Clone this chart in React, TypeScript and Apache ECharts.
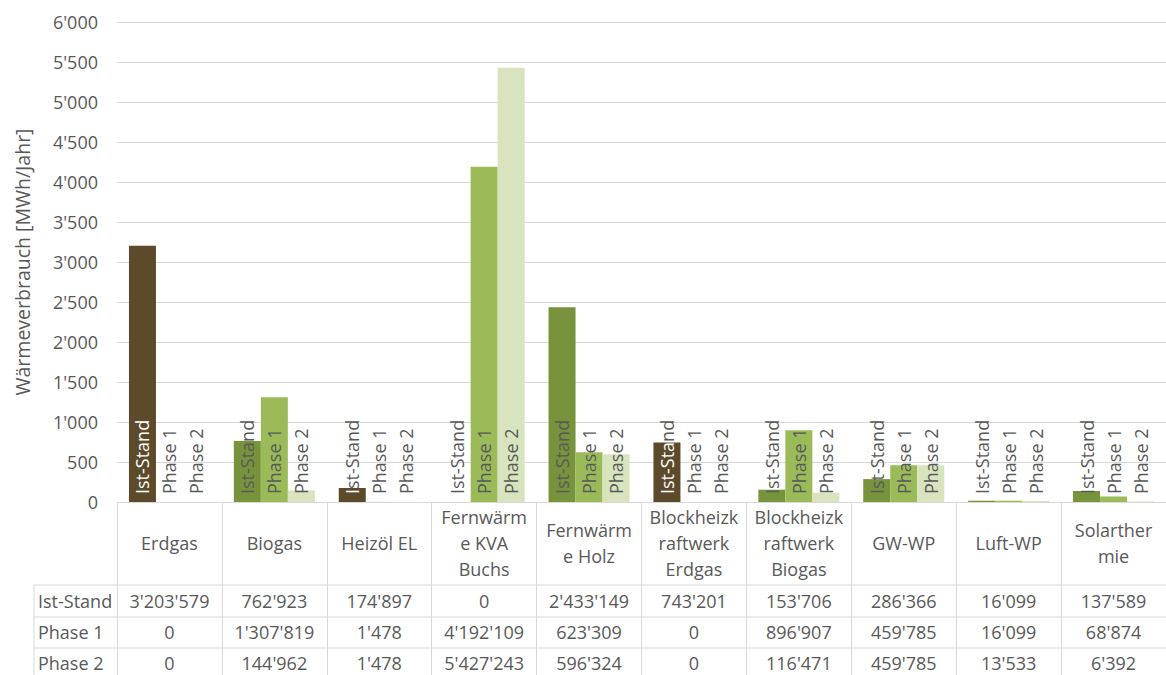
import React, { useEffect, useRef } from "react";
import * as echarts from "echarts";

const categories = [
  "Erdgas",
  "Biogas",
  "Heizöl EL",
  "Fernwärme KVA Buchs",
  "Fernwärme Holz",
  "Blockheizkraftwerk Erdgas",
  "Blockheizkraftwerk Biogas",
  "GW-WP",
  "Luft-WP",
  "Solarthermie",
];
const headerLabels = [
  "Erdgas",
  "Biogas",
  "Heizöl EL",
  "Fernwärm\ne KVA\nBuchs",
  "Fernwärm\ne Holz",
  "Blockheizk\nraftwerk\nErdgas",
  "Blockheizk\nraftwerk\nBiogas",
  "GW-WP",
  "Luft-WP",
  "Solarther\nmie",
];
const fossil = [true, false, true, false, false, true, false, false, false, false];
const seriesNames = ["Ist-Stand", "Phase 1", "Phase 2"];
const istStand = [3203579, 762923, 174897, 0, 2433149, 743201, 153706, 286366, 16099, 137589];
const phase1 = [0, 1307819, 1478, 4192109, 623309, 0, 896907, 459785, 16099, 68874];
const phase2 = [0, 144962, 1478, 5427243, 596324, 0, 116471, 459785, 13533, 6392];
const yTicks = { min: 0, max: 6000, interval: 500 };

const BROWN = "#5c4a2b";
const GREEN_DARK = "#77933c";
const GREEN = "#9bbb59";
const GREEN_LIGHT = "#d7e4bd";
const TEXT = "#595959";
const LINE = "#d9d9d9";
const FONT = "Open Sans";
const LABEL_SIZE = 18;
const LABEL_DIST = 8;

const fmt = (v: number) => String(Math.round(v)).replace(/\B(?=(\d{3})+(?!\d))/g, "'");

const GRID_LEFT = 117;
const GRID_TOP = 22;
const W = 1166;
const H = 675;
const GRID_BOTTOM_Y = 502;
const rowCenters = [601, 632, 663];
const rowLines = [585, 617, 648];
const TABLE_LEFT = 34;

export default function App() {
  const ref = useRef<HTMLDivElement>(null);
  useEffect(() => {
    if (!ref.current) return;
    const chart = echarts.init(ref.current, null, { renderer: "svg" });
    const datasets = [istStand, phase1, phase2];
    const plotH = GRID_BOTTOM_Y - GRID_TOP;

    const ctx = document.createElement("canvas").getContext("2d");
    if (ctx) ctx.font = `${LABEL_SIZE}px "${FONT}"`;
    const measure = (s: string) => (ctx ? ctx.measureText(s).width : s.length * 9);

    // split a label into the part lying over a dark bar (white) and the rest (grey)
    const splitLabel = (text: string, valueMWh: number) => {
      const barPx = (valueMWh / (yTicks.max - yTicks.min)) * plotH;
      const avail = barPx - LABEL_DIST;
      let k = 0;
      while (k < text.length && measure(text.slice(0, k + 1)) <= avail + 1) k++;
      const a = text.slice(0, k);
      const b = text.slice(k);
      return (a ? `{w|${a}}` : "") + (b ? `{d|${b}}` : "");
    };

    const series = datasets.map((arr, si) => ({
      type: "bar",
      name: seriesNames[si],
      barWidth: 27,
      barGap: "0%",
      label: {
        show: true,
        position: "insideBottom",
        rotate: 90,
        align: "left",
        verticalAlign: "middle",
        distance: LABEL_DIST,
        fontSize: LABEL_SIZE,
        fontFamily: FONT,
        color: TEXT,
        rich: {
          w: { color: "#ffffff", fontSize: LABEL_SIZE, fontFamily: FONT },
          d: { color: TEXT, fontSize: LABEL_SIZE, fontFamily: FONT },
        },
        formatter: (p: any) => {
          const i = p.dataIndex;
          if (si === 0 && fossil[i]) return splitLabel(seriesNames[si], p.value);
          return `{d|${seriesNames[si]}}`;
        },
      },
      data: arr.map((v, i) => {
        const color = si === 0 ? (fossil[i] ? BROWN : GREEN_DARK) : si === 1 ? GREEN : GREEN_LIGHT;
        return { value: v / 1000, itemStyle: { color } };
      }),
    }));

    const graphics: any[] = [];
    rowLines.forEach((y) =>
      graphics.push({
        type: "line",
        shape: { x1: TABLE_LEFT, y1: y, x2: W, y2: y },
        style: { stroke: LINE, lineWidth: 1 },
      })
    );
    graphics.push({
      type: "line",
      shape: { x1: TABLE_LEFT, y1: rowLines[0], x2: TABLE_LEFT, y2: H },
      style: { stroke: LINE, lineWidth: 1 },
    });
    seriesNames.forEach((n, i) =>
      graphics.push({
        type: "text",
        x: TABLE_LEFT + 4,
        y: rowCenters[i],
        style: {
          text: n,
          fill: TEXT,
          font: `18px "${FONT}"`,
          textAlign: "left",
          textVerticalAlign: "middle",
        },
      })
    );

    const rowAxes = datasets.map((arr, i) => ({
      type: "category",
      gridIndex: 0,
      position: "bottom",
      data: arr.map(fmt),
      axisLine: { show: false },
      axisTick: { show: false },
      axisLabel: {
        interval: 0,
        margin: rowCenters[i] - GRID_BOTTOM_Y,
        verticalAlign: "middle",
        fontSize: 18,
        fontFamily: FONT,
        color: TEXT,
      },
    }));

    chart.setOption({
      animation: false,
      textStyle: { fontFamily: FONT },
      grid: { left: GRID_LEFT, top: GRID_TOP, width: W - GRID_LEFT, height: plotH, containLabel: false },
      xAxis: [
        {
          type: "category",
          data: categories,
          axisLine: { show: true, lineStyle: { color: LINE, width: 1 } },
          axisTick: { show: true, interval: 0, length: H - GRID_BOTTOM_Y, lineStyle: { color: LINE } },
          axisLabel: {
            interval: 0,
            margin: 41,
            verticalAlign: "middle",
            lineHeight: 26,
            fontSize: 18,
            fontFamily: FONT,
            color: TEXT,
            formatter: (_v: string, idx: number) => headerLabels[idx],
          },
        },
        ...rowAxes,
      ],
      yAxis: {
        type: "value",
        min: yTicks.min,
        max: yTicks.max,
        interval: yTicks.interval,
        name: "Wärmeverbrauch [MWh/Jahr]",
        nameLocation: "middle",
        nameGap: 85,
        nameTextStyle: { fontSize: 19.5, fontFamily: FONT, color: TEXT },
        axisLine: { show: false },
        axisTick: { show: false },
        axisLabel: { margin: 19, fontSize: 18, fontFamily: FONT, color: TEXT, formatter: (v: number) => fmt(v) },
        splitLine: { show: true, lineStyle: { color: LINE, width: 1 } },
      },
      series,
      graphic: graphics,
    });
    return () => chart.dispose();
  }, []);
  return (
    <div
      ref={ref}
      style={{ position: "absolute", left: 0, top: 0, width: W, height: H, background: "#ffffff" }}
    />
  );
}
